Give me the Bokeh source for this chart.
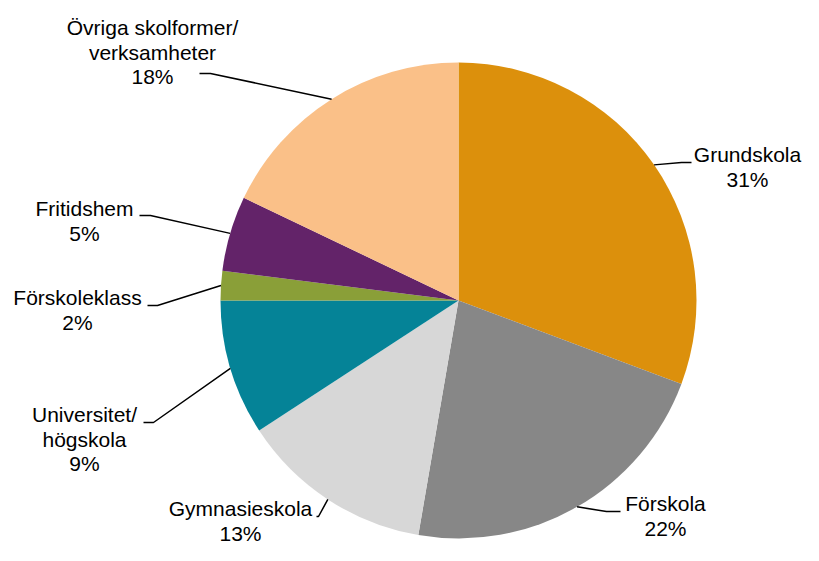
import numpy as np
from bokeh.plotting import figure
from bokeh.models import Range1d, ColumnDataSource
from bokeh.core.properties import value
from bokeh.embed import file_html
from bokeh.resources import INLINE

# ---- data ----
categories = ["Grundskola", "Förskola", "Gymnasieskola", "Universitet/\nhögskola",
              "Förskoleklass", "Fritidshem", "Övriga skolformer/\nverksamheter"]
shares = [30.7, 22.0, 13.1, 9.2, 2.0, 5.1, 17.9]
colors = ["#DC900C", "#878787", "#D7D7D7", "#058397", "#8A9F38", "#632369", "#FAC088"]

# ---- layout (pixel coords, y down) ----
FW, FH = 803, 545
CX, CY, R = 458, 300, 238
# label anchor: center x, first baseline y; elbow point; end point of leader
label_pos = [(747, 162), (665, 511), (240, 516), (84, 422), (77, 305), (84, 216), (152, 35)]
elbows = [(681, 162), (606, 511), (318, 516), (153, 422), (157, 305), (150, 215), (210, 73)]
ends = [(691, 162), (620, 511), (316, 516), (143, 422), (147, 305), (139, 215), (199, 73)]
LINE_H = 24.5
TEXT_SHIFT = 8  # renderer draws the alphabetic baseline lower than requested


def sy(y):
    return FH - y


p = figure(width=FW, height=FH, output_backend="svg", toolbar_location=None,
           x_range=Range1d(0, FW), y_range=Range1d(0, FH),
           min_border=0)
p.axis.visible = False
p.grid.visible = False
p.outline_line_color = None
p.background_fill_color = "white"
p.border_fill_color = "white"

vals = np.array(shares, dtype=float)
frac = vals / vals.sum()
cum = np.concatenate([[0], np.cumsum(frac)])
start = np.pi / 2 - 2 * np.pi * cum[:-1]
end = np.pi / 2 - 2 * np.pi * cum[1:]

src = ColumnDataSource(dict(x=[CX] * len(vals), y=[sy(CY)] * len(vals),
                            start=start, end=end, color=colors))
p.wedge(x="x", y="y", radius=R, start_angle="start", end_angle="end",
        direction="clock", fill_color="color", line_color=None, source=src)

# leader lines
mid = (cum[:-1] + cum[1:]) / 2 * 2 * np.pi  # clockwise from top
xs, ys = [], []
for m, e1, e2 in zip(mid, elbows, ends):
    x0 = CX + R * np.sin(m)
    y0 = CY - R * np.cos(m)
    xs.append([x0, e1[0], e2[0]])
    ys.append([sy(y0), sy(e1[1]), sy(e2[1])])
p.multi_line(xs=xs, ys=ys, line_color="black", line_width=1.5)

# labels
tx, ty, tt = [], [], []
for name, v, (lx, ly) in zip(categories, vals, label_pos):
    lines = name.split("\n") + [f"{int(round(v))}%"]
    for i, ln in enumerate(lines):
        tx.append(lx)
        ty.append(sy(ly - TEXT_SHIFT + i * LINE_H))
        tt.append(ln)
p.text(x=tx, y=ty, text=tt, text_align="center", text_baseline="alphabetic",
       text_font=value("Liberation Sans"), text_font_size="21px", text_color="black")

open("out.html", "w").write(file_html(p, INLINE))
